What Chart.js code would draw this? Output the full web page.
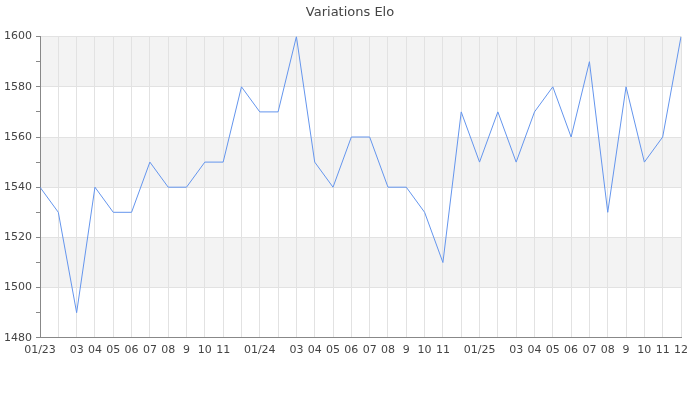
<!DOCTYPE html>
<html>
<head>
<meta charset="utf-8">
<script src="https://cdn.jsdelivr.net/npm/chart.js@4.4.1/dist/chart.umd.min.js"></script>
<style>
  html, body { margin: 0; padding: 0; background: #fff; }
  #wrap { width: 700px; height: 400px; }
</style>
</head>
<body>
<div id="wrap"><canvas id="eloChart"></canvas></div>
<script>
// months from 01/23 to 12/25 (blank labels were hidden in the original)
const months = [
  '01/23', '', '03', '04', '05', '06', '07', '08', '9', '10', '11', '',
  '01/24', '', '03', '04', '05', '06', '07', '08', '9', '10', '11', '',
  '01/25', '', '03', '04', '05', '06', '07', '08', '9', '10', '11', '12'
];
const elo = [
  1540, 1530, 1490, 1540, 1530, 1530, 1550, 1540, 1540, 1550, 1550, 1580,
  1570, 1570, 1600, 1550, 1540, 1560, 1560, 1540, 1540, 1530, 1510, 1570,
  1550, 1570, 1550, 1570, 1580, 1560, 1590, 1530, 1580, 1550, 1560, 1600
];
const yTicks = [1480, 1500, 1520, 1540, 1560, 1580, 1600];
const shadedBands = [[1500, 1520], [1540, 1560], [1580, 1600]];

const bandPlugin = {
    id: 'bands',
    beforeDraw(chart) {
        const ctx = chart.ctx;
        const area = chart.chartArea;
        const y = chart.scales.y;
        ctx.save();
        ctx.fillStyle = '#f3f3f3';
        shadedBands.forEach(function (b) {
            const top = y.getPixelForValue(b[1]);
            const bottom = y.getPixelForValue(b[0]);
            ctx.fillRect(area.left, top, area.right - area.left, bottom - top);
        });
        ctx.restore();
    }
};

document.addEventListener('DOMContentLoaded', function () {
    const ctx = document.getElementById('eloChart').getContext('2d');
    Chart.defaults.font.family = '"DejaVu Sans", sans-serif';
    Chart.defaults.font.size = 11;
    Chart.defaults.color = '#444';

    new Chart(ctx, {
        type: 'line',
        data: {
            labels: months,
            datasets: [{
                label: 'Elo',
                data: elo,
                borderColor: 'rgb(100, 149, 237)',
                borderWidth: 1,
                pointRadius: 0,
                fill: false,
                tension: 0
            }]
        },
        options: {
            responsive: true,
            maintainAspectRatio: false,
            animation: false,
            layout: { padding: { left: 0, right: 0, top: 1, bottom: 37 } },
            plugins: {
                legend: { display: false },
                tooltip: { enabled: false },
                title: {
                    display: true,
                    text: 'Variations Elo',
                    color: '#444',
                    font: { size: 13, weight: 'normal' },
                    padding: { top: 4, bottom: 16 }
                }
            },
            scales: {
                x: {
                    offset: false,
                    afterFit: function (scale) { scale.paddingRight = 19; },
                    border: { color: '#888', width: 1 },
                    grid: { color: '#e2e2e2', drawTicks: false },
                    ticks: {
                        autoSkip: false,
                        maxRotation: 0,
                        padding: 6,
                        color: '#444'
                    }
                },
                y: {
                    min: 1480,
                    max: 1600,
                    afterFit: function (scale) { scale.width = 40; },
                    border: { color: '#888', width: 1 },
                    grid: {
                        color: function (c) {
                            return yTicks.includes(c.tick.value) ? '#e2e2e2' : 'rgba(0,0,0,0)';
                        },
                        tickColor: '#888',
                        tickLength: 4
                    },
                    ticks: {
                        stepSize: 10,
                        padding: 4,
                        color: '#444',
                        callback: function (v) {
                            return yTicks.includes(v) ? v : '';
                        }
                    }
                }
            }
        },
        plugins: [bandPlugin]
    });
});
</script>
</body>
</html>
